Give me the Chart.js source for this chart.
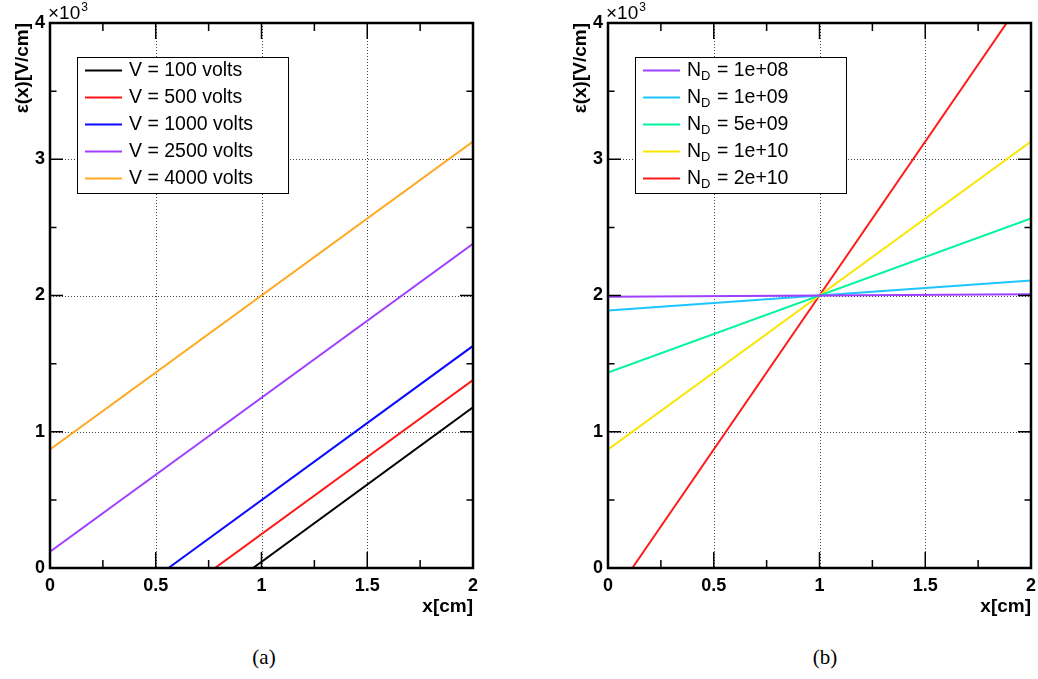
<!DOCTYPE html>
<html>
<head>
<meta charset="utf-8">
<title>Electric field profiles</title>
<script src="https://cdn.jsdelivr.net/npm/chart.js@4.4.1/dist/chart.umd.min.js"></script>
<style>
  body { margin: 0; background: #fff; width: 1038px; height: 679px; position: relative; overflow: hidden; }
  canvas { position: absolute; top: 0; }
  #chartA { left: 0; }
  #chartB { left: 519px; }
  .caption { position: absolute; top: 645px; width: 60px; text-align: center; font: 21px 'Liberation Serif', 'DejaVu Serif', serif; color: #000; }
</style>
</head>
<body>
<canvas id="chartA" width="519" height="630"></canvas>
<canvas id="chartB" width="519" height="630"></canvas>
<div class="caption" style="left:234px">(a)</div>
<div class="caption" style="left:795px">(b)</div>
<script>
/* ===== E-FIELD vs DEPTH — two ROOT-style panels ===== */

// ── Data ─────────────────────────────────────────────────────
const xMajor = [0, 0.5, 1, 1.5, 2];        // cm
const yMajor = [0, 1000, 2000, 3000, 4000]; // V/cm, shown as ×10^3

// panel (a): bias voltage scan, [x, E] end points
const voltLabels = ['V = 100 volts', 'V = 500 volts', 'V = 1000 volts', 'V = 2500 volts', 'V = 4000 volts'];
const voltColors = ['#000000', '#ff1414', '#0a0aff', '#a040ff', '#ffa820'];
const v100  = [[0.96, 0], [2, 1180]];
const v500  = [[0.78, 0], [2, 1380]];
const v1000 = [[0.56, 0], [2, 1630]];
const v2500 = [[0, 120],  [2, 2380]];
const v4000 = [[0, 870],  [2, 3130]];

// panel (b): impurity concentration scan at V = 4000
const ndLabels = ['N_{D} = 1e+08', 'N_{D} = 1e+09', 'N_{D} = 5e+09', 'N_{D} = 1e+10', 'N_{D} = 2e+10'];
const ndColors = ['#a040ff', '#1ec4ff', '#00f59c', '#f8e600', '#ff1a1a'];
const nd1e8  = [[0, 1990], [2, 2010]];
const nd1e9  = [[0, 1890], [2, 2110]];
const nd5e9  = [[0, 1435], [2, 2565]];
const nd1e10 = [[0, 870],  [2, 3130]];
const nd2e10 = [[0.115, 0], [1.885, 4000]];

const FONT = "'Liberation Sans', Arial, Helvetica, sans-serif";

// ── Frame, inward ticks, grid, titles ────────────────────────
const rootFrame = {
  id: 'rootFrame',
  beforeDatasetsDraw(chart) {
    const { ctx, chartArea: a, scales: { x, y } } = chart;
    ctx.save();
    ctx.strokeStyle = '#444';
    ctx.lineWidth = 1;
    ctx.setLineDash([1, 2]);
    ctx.beginPath();
    xMajor.slice(1, -1).forEach(v => {
      const px = Math.round(x.getPixelForValue(v)) + 0.5;
      ctx.moveTo(px, a.top); ctx.lineTo(px, a.bottom);
    });
    yMajor.slice(1, -1).forEach(v => {
      const py = Math.round(y.getPixelForValue(v)) + 0.5;
      ctx.moveTo(a.left, py); ctx.lineTo(a.right, py);
    });
    ctx.stroke();
    ctx.restore();
  },
  afterDatasetsDraw(chart) {
    const { ctx, chartArea: a, scales: { x, y } } = chart;
    ctx.save();
    ctx.strokeStyle = '#000';
    ctx.lineWidth = 1.5;
    ctx.beginPath();
    x.ticks.forEach(t => {
      const px = x.getPixelForValue(t.value);
      const len = xMajor.includes(t.value) ? 16 : 8;
      ctx.moveTo(px, a.bottom); ctx.lineTo(px, a.bottom - len);
      ctx.moveTo(px, a.top);    ctx.lineTo(px, a.top + len);
    });
    y.ticks.forEach(t => {
      const py = y.getPixelForValue(t.value);
      const len = yMajor.includes(t.value) ? 13 : 6.5;
      ctx.moveTo(a.left, py);  ctx.lineTo(a.left + len, py);
      ctx.moveTo(a.right, py); ctx.lineTo(a.right - len, py);
    });
    ctx.stroke();
    ctx.lineWidth = 2.5;
    ctx.strokeRect(a.left, a.top, a.right - a.left, a.bottom - a.top);

    // exponent ×10^3
    ctx.fillStyle = '#000';
    ctx.textBaseline = 'alphabetic';
    ctx.textAlign = 'left';
    ctx.font = '19px ' + FONT;
    ctx.fillText('\u00d710', a.left - 2, a.top - 4);
    const w = ctx.measureText('\u00d710').width;
    ctx.font = '12px ' + FONT;
    ctx.fillText('3', a.left - 2 + w + 1, a.top - 12);

    // axis titles (ROOT style: flush to the axis end)
    ctx.font = 'bold 19px ' + FONT;
    ctx.textAlign = 'right';
    ctx.textBaseline = 'middle';
    ctx.fillText('x[cm]', a.right, a.bottom + 39);
    ctx.translate(a.left - 27, a.top);
    ctx.rotate(-Math.PI / 2);
    ctx.fillText('\u03b5(x)[V/cm]', 0, 0);
    ctx.restore();
  }
};

// ── Legend box inside the pad ────────────────────────────────
function drawRich(ctx, str, x, y) {
  // handles "_{sub}" pieces
  str.split(/(_\{[^}]*\})/).forEach(part => {
    if (!part) return;
    if (part.startsWith('_{')) {
      ctx.font = '13px ' + FONT;
      const s = part.slice(2, -1);
      ctx.fillText(s, x, y + 6);
      x += ctx.measureText(s).width + 1;
    } else {
      ctx.font = '19.5px ' + FONT;
      ctx.fillText(part, x, y);
      x += ctx.measureText(part).width;
    }
  });
}

const rootLegend = {
  id: 'rootLegend',
  afterDraw(chart) {
    const { ctx, chartArea: a } = chart;
    const bx = a.left + 27, by = a.top + 34, bw = 211, bh = 136;
    ctx.save();
    ctx.fillStyle = '#fff';
    ctx.fillRect(bx, by, bw, bh);
    ctx.strokeStyle = '#000';
    ctx.lineWidth = 1;
    ctx.strokeRect(bx + 0.5, by + 0.5, bw, bh);
    chart.data.datasets.forEach((ds, i) => {
      const cy = by + 13.5 + 27 * i;
      ctx.strokeStyle = ds.borderColor;
      ctx.lineWidth = 2;
      ctx.beginPath();
      ctx.moveTo(bx + 8, cy); ctx.lineTo(bx + 45, cy);
      ctx.stroke();
      ctx.fillStyle = '#000';
      ctx.textAlign = 'left';
      ctx.textBaseline = 'middle';
      drawRich(ctx, ds.label, bx + 52, cy);
    });
    ctx.restore();
  }
};

// ── Chart factory ─────────────────────────────────────────────
function makePanel(id, labels, colors, series, yWidth, padRight) {
  new Chart(document.getElementById(id), {
    type: 'line',
    data: {
      datasets: series.map((pts, i) => ({
        label: labels[i],
        data: pts.map(([x, y]) => ({ x, y })),
        borderColor: colors[i],
        borderWidth: 2,
        pointRadius: 0,
        tension: 0
      }))
    },
    options: {
      responsive: false,
      animation: false,
      layout: { padding: { top: 23, right: padRight, left: 0, bottom: 0 } },
      plugins: { legend: { display: false }, tooltip: { enabled: false } },
      scales: {
        x: {
          type: 'linear', min: 0, max: 2,
          afterFit: s => { s.height = 62; s.paddingLeft = 0; s.paddingRight = 0; },
          grid: { display: false, drawTicks: false },
          border: { display: false },
          ticks: {
            stepSize: 0.25, autoSkip: false, maxRotation: 0, padding: 7, color: '#000',
            font: { family: FONT, size: 18, weight: 'bold' },
            callback: v => xMajor.includes(v) ? String(v) : ''
          }
        },
        y: {
          min: 0, max: 4000,
          afterFit: s => { s.width = yWidth; s.paddingTop = 0; s.paddingBottom = 0; },
          grid: { display: false, drawTicks: false },
          border: { display: false },
          ticks: {
            stepSize: 500, autoSkip: false, padding: 5, color: '#000',
            font: { family: FONT, size: 18, weight: 'bold' },
            callback: v => yMajor.includes(v) ? String(v / 1000) : ''
          }
        }
      }
    },
    plugins: [rootFrame, rootLegend]
  });
}

makePanel('chartA', voltLabels, voltColors, [v100, v500, v1000, v2500, v4000], 50, 46);
makePanel('chartB', ndLabels, ndColors, [nd1e8, nd1e9, nd5e9, nd1e10, nd2e10], 89, 7);
</script>
</body>
</html>
